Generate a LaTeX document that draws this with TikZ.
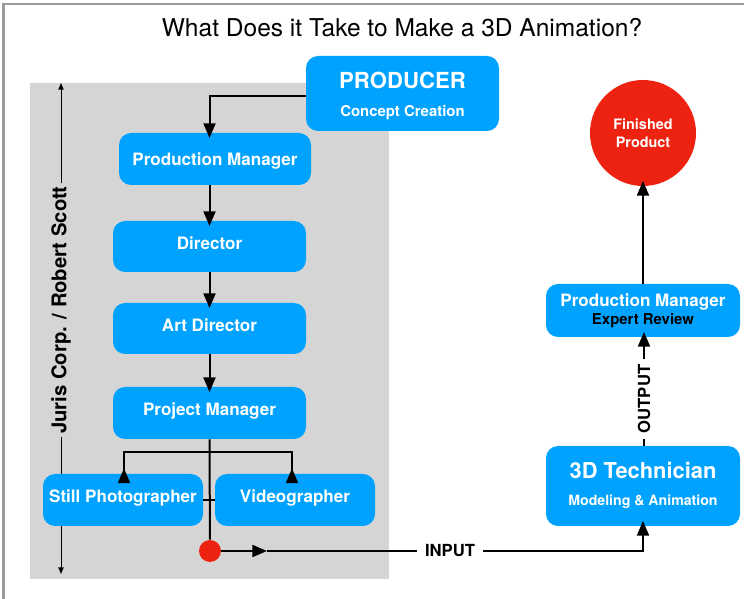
\documentclass[tikz,border=0pt]{standalone}
\usepackage{fontspec}
\setmainfont{TeX Gyre Heros}
\usetikzlibrary{arrows.meta,calc}
\definecolor{boxblue}{RGB}{0,162,255}
\definecolor{dotred}{RGB}{237,34,16}
\definecolor{panelgray}{RGB}{213,213,213}
\definecolor{framegray}{RGB}{155,155,155}
\newcommand\pxu{0.75pt}
\begin{document}
\begin{tikzpicture}[x=0.75pt, y=-0.75pt,
  box/.style 2 args={fill=boxblue, rounded corners=9pt, inner sep=0pt,
    minimum width=#1*\pxu, minimum height=#2*\pxu,
    text height=9.2pt, text depth=4.8pt,
    text=white, font=\bfseries\fontsize{12.8}{15}\selectfont},
  boxtext/.style={text=white, inner sep=0pt},
  flow/.style={line width=1.5pt, -{Triangle[length=11pt,width=9pt]}, shorten >=-4pt},
  plain/.style={line width=1.5pt},
  thinarrow/.style={line width=0.75pt, -{Triangle[length=5pt,width=4pt]}},
  tag/.style={font=\bfseries\fontsize{12.5}{15}\selectfont}
]
\useasboundingbox (0,0) rectangle (744,599);
% outer frame and grey panel
\draw[framegray, line width=1.5pt] (3.5,610) -- (3.5,4.5) -- (760,4.5);
\fill[panelgray] (30,83) rectangle (389,579);

% title
\node[font=\fontsize{18.4}{22}\selectfont] (title) at (402,28) {What Does it Take to Make a 3D Animation?};

% side label with its two arrows
\node[rotate=90, inner sep=2pt, font=\bfseries\fontsize{15.2}{18}\selectfont] (corp) at (61,310) {Juris Corp. / Robert Scott};
\coordinate (topend) at (61,83);
\coordinate (botend) at (61,574);
\draw[thinarrow] (corp.east) -- (topend);
\draw[thinarrow] (corp.west) -- (botend);

% producer
\node[box={193}{75}] (producer) at (402.5,93.5) {};
\node[boxtext, font=\bfseries\fontsize{16.6}{20}\selectfont] (prodT) at (402.5,80) {PRODUCER};
\node[boxtext, font=\bfseries\fontsize{11.2}{13}\selectfont] (prodS) at (402.5,113) {Concept Creation};

% chain of roles
\node[box={192}{52}, text depth=0pt] (pm) at (215,159) {Production Manager};
\node[box={193}{51}] (director) at (209.5,246.5) {Director};
\node[box={193}{51}] (art) at (209.5,328.5) {Art Director};
\node[box={193}{52}] (proj) at (209.5,413) {Project Manager};
\node[box={160}{52}] (still) at (123,500) {Still Photographer};
\node[box={160}{52}] (video) at (295,500) {Videographer};
\node[circle, fill=dotred, minimum size=22*\pxu, inner sep=0pt] (dot) at (210,551) {};

% right column
\node[box={194}{80}] (tech) at (643,486) {};
\node[boxtext, font=\bfseries\fontsize{16.4}{20}\selectfont] (techT) at (643,470) {3D Technician};
\node[boxtext, font=\bfseries\fontsize{10.6}{13}\selectfont] (techS) at (643,502) {Modeling \& Animation};
\node[box={194}{53}] (review) at (643,310.5) {};
\node[boxtext, font=\bfseries\fontsize{12.8}{15}\selectfont] (reviewT) at (643,302.5) {Production Manager};
\node[inner sep=0pt, font=\bfseries\fontsize{11.2}{13}\selectfont] (reviewS) at (643,321) {Expert Review};
\node[circle, fill=dotred, minimum size=106*\pxu, inner sep=0pt, text=white,
      align=center, font=\bfseries\fontsize{10.8}{13.5}\selectfont] (finished) at (643,133) {Finished\\Product};

% connectors
\draw[flow] (producer.west |- 0,96) -| (director.north |- pm.north);
\draw[flow] (director.north |- pm.south) -- (director.north);
\draw[flow] (director) -- (art);
\draw[flow] (art) -- (proj);
\coordinate (branch) at (210,452);
\draw[plain] (proj.south) -- (dot);
\draw[flow] (branch) -| (124,474) -- (still.north -| 124,0);
\draw[flow] (branch) -| (292,474) -- (video.north -| 292,0);
\draw[plain] (still.east) -- (video.west);

\coordinate (midtip) at (267,551);
\node[tag, inner sep=0pt, minimum width=66*\pxu] (input) at (450,551) {INPUT};
\draw[flow, shorten >=0pt] (dot.east) -- (midtip);
\draw[plain] (midtip) -- (input.west);
\draw[flow] (input.east) -| (tech.south);

\node[tag, rotate=90, inner sep=0pt, minimum width=80*\pxu] (output) at (644,399) {OUTPUT};
\draw[plain] (tech.north -| output) -- (output.west);
\draw[flow] (output.east) -- (review.south -| output);
\draw[flow] (review.north) -- (finished.south);
\end{tikzpicture}
\end{document}
